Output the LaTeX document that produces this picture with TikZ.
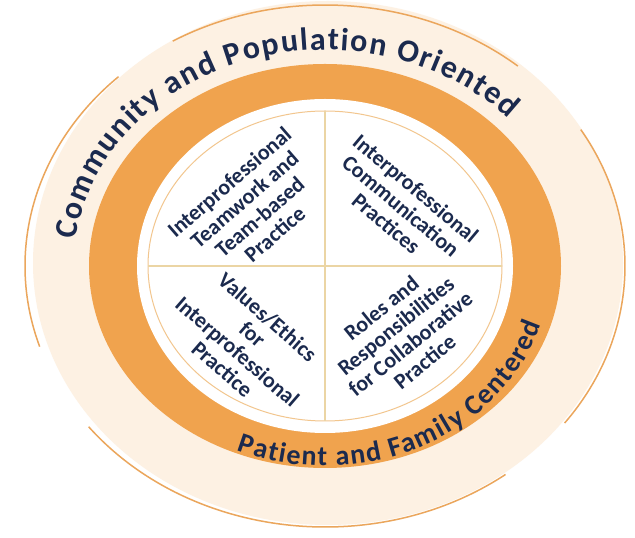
\documentclass[tikz,border=0pt]{standalone}
\usepackage{fontspec}
\setmainfont{Carlito}
\usetikzlibrary{decorations.text}

\definecolor{navy}{HTML}{1B2A4E}
\definecolor{ringorange}{HTML}{F0A34E}
\definecolor{cream}{HTML}{FDF1E3}
\definecolor{arcorange}{HTML}{EBA65C}
\definecolor{thinorange}{HTML}{F2C68E}
\definecolor{linetan}{HTML}{EBD5A4}
\def\quadfont{\bfseries\fontsize{22}{23}\selectfont}

\begin{document}
\begin{tikzpicture}[x=1pt, y=1pt,
    every node/.style={anchor=center, text=navy, align=center, font=\quadfont},
    arcline/.style={arcorange, line width=1.5pt},
    quadline/.style={linetan, line width=1.5pt}]
      \useasboundingbox[fill=white] (0,0) rectangle (635,538);
      \coordinate (mid) at (325,272);
      \fill[cream] (328,275) ellipse [x radius=295, y radius=262];
      \draw[arcline] (mid) ++(120.5:300 and 261) arc [start angle=120.5, end angle=50, x radius=300, y radius=261];
      \draw[arcline] (mid) ++(133.5:300 and 261) arc [start angle=133.5, end angle=198, x radius=300, y radius=261];
      \draw[arcline] (mid) ++(218:300 and 261) arc [start angle=218, end angle=307, x radius=300, y radius=261];
      \draw[arcline] (mid) ++(-37:300 and 261) arc [start angle=-37, end angle=31.5, x radius=300, y radius=261];
      \fill[ringorange] (mid) ellipse [x radius=236, y radius=202];
      \fill[white] (mid) ellipse [x radius=188, y radius=167];
      \draw[thinorange, line width=1pt] (mid) ellipse [x radius=177, y radius=155];
      \coordinate (west) at (148,272);
      \coordinate (east) at (502,272);
      \coordinate (north) at (325,427);
      \coordinate (south) at (325,117);
      \draw[quadline] (west) -- (east);
      \draw[quadline] (north) -- (south);
      \node[rotate=41] (teamwork) at (252,330) {Interprofessional\\Teamwork and\\Team-based\\Practice};
      \node[rotate=-40] (communication) at (401,332) {Interprofessional\\Communication\\Practices};
      \node[rotate=-41] (values) at (245,195) {Values/Ethics\\for\\Interprofessional\\Practice};
      \node[rotate=39] (roles) at (403,203) {Roles and\\Responsibilities\\for Collaborative\\Practice};
      \path[decorate, decoration={text along path, text align=fit to path, text color=navy,
          text={|\bfseries\fontsize{32}{32}\selectfont|Community and Population Oriented}}]
        (mid) ++(173:251 and 216) arc [start angle=173, end angle=43, x radius=251, y radius=216];
      \path[decorate, decoration={text along path, text align=fit to path, text color=navy,
          text={|\bfseries\fontsize{28}{28}\selectfont|Patient and Family Centered}}]
        (mid) ++(247:226 and 200) arc [start angle=247, end angle=343, x radius=226, y radius=200];
    \end{tikzpicture}
\end{document}
